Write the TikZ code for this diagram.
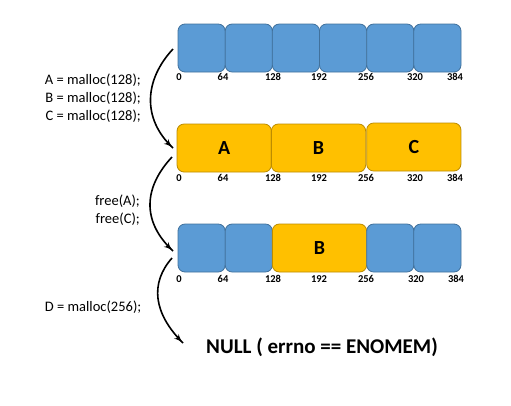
\documentclass[tikz,border=0pt]{standalone}
\usepackage{fontspec}
\setmainfont{Carlito}
\usetikzlibrary{arrows}
\usetikzlibrary{decorations.markings}
\definecolor{freefill}{HTML}{5B9BD5}
\definecolor{freeline}{HTML}{41719C}
\definecolor{usedfill}{HTML}{FFC000}
\definecolor{usedline}{HTML}{BC8C00}
\tikzset{->/.style = {decoration={markings,
                                  mark=at position 0.995 with {\arrow[scale=1.2]{latex'}}},
                      postaction={decorate}}}
\tikzset{freeblk/.style = {draw = freeline, fill = freefill, rounded corners = 7,
                           minimum height = 48, line width = 0.8, inner sep = 0}}
\tikzset{usedblk/.style = {draw = usedline, fill = usedfill, rounded corners = 7,
                           minimum height = 48, line width = 0.8, inner sep = 0,
                           font = \fontsize{20}{24}\selectfont\bfseries}}
\tikzset{addr/.style = {inner sep = 0, font = \fontsize{10.5}{12}\selectfont\bfseries}}
\tikzset{code/.style = {inner sep = 0, anchor = east, align = right,
                        font = \fontsize{14.5}{18.3}\selectfont}}

\begin{document}
\begin{tikzpicture}[x=1pt, y=-1pt]
      \useasboundingbox (0, 0) rectangle (511, 405);

      % heap before the calls
      \node (a1) at (201.6, 48) [freeblk, minimum width = 47.2] {};
      \node (a2) at (248.8, 48) [freeblk, minimum width = 47.2] {};
      \node (a3) at (295.9, 48) [freeblk, minimum width = 47.2] {};
      \node (a4) at (343.1, 48) [freeblk, minimum width = 47.2] {};
      \node (a5) at (390.3, 48) [freeblk, minimum width = 47.2] {};
      \node (a6) at (437.4, 48) [freeblk, minimum width = 47.2] {};
      \node (la0) at (179, 77) [addr] {0};
      \node (la1) at (223, 77) [addr] {64};
      \node (la2) at (273, 77) [addr] {128};
      \node (la3) at (319, 77) [addr] {192};
      \node (la4) at (366, 77) [addr] {256};
      \node (la5) at (415, 77) [addr] {320};
      \node (la6) at (455, 77) [addr] {384};

      % after malloc
      \node (b1) at (224.2, 148) [usedblk, minimum width = 94.3] {A};
      \node (b2) at (318.5, 148) [usedblk, minimum width = 94.3] {B};
      \node (b3) at (413.8, 147) [usedblk, minimum width = 94.3] {C};
      \node (lb0) at (179, 178) [addr] {0};
      \node (lb1) at (223, 178) [addr] {64};
      \node (lb2) at (273, 178) [addr] {128};
      \node (lb3) at (319, 178) [addr] {192};
      \node (lb4) at (366, 178) [addr] {256};
      \node (lb5) at (415, 178) [addr] {320};
      \node (lb6) at (455, 178) [addr] {384};

      % after free
      \node (c1) at (201.6, 248) [freeblk, minimum width = 47.2] {};
      \node (c2) at (248.8, 248) [freeblk, minimum width = 47.2] {};
      \node (c3) at (319.5, 248) [usedblk, minimum width = 94.3] {B};
      \node (c4) at (390.3, 248) [freeblk, minimum width = 47.2] {};
      \node (c5) at (437.4, 248) [freeblk, minimum width = 47.2] {};
      \node (lc0) at (179, 279) [addr] {0};
      \node (lc1) at (223, 279) [addr] {64};
      \node (lc2) at (273, 279) [addr] {128};
      \node (lc3) at (319, 279) [addr] {192};
      \node (lc4) at (366, 279) [addr] {256};
      \node (lc5) at (416, 279) [addr] {320};
      \node (lc6) at (456, 279) [addr] {384};

      \node (res) at (322, 347) [font = \fontsize{21}{25}\selectfont\bfseries] {NULL ( errno == ENOMEM)};

      \node (t1) at (141, 98) [code] {A = malloc(128);\\B = malloc(128);\\C = malloc(128);};
      \node (t2) at (140, 210) [code] {free(A);\\free(C);};
      \node (t3) at (141.5, 307) [code] {D = malloc(256);};

      \coordinate (s1) at (173, 49);
      \coordinate (e1) at (173, 148);
      \coordinate (s2) at (172, 157);
      \coordinate (e2) at (173, 251);
      \coordinate (s3) at (172, 258);
      \coordinate (e3) at (183, 343);
      \draw [->, line width = 1.6] (s1) .. controls +(-28, 30) and +(-32, -30) .. (e1);
      \draw [->, line width = 1.6] (s2) .. controls +(-28, 30) and +(-32, -30) .. (e2);
      \draw [->, line width = 1.6] (s3) .. controls +(-22, 25) and +(-30, -30) .. (e3);
    \end{tikzpicture}
\end{document}
